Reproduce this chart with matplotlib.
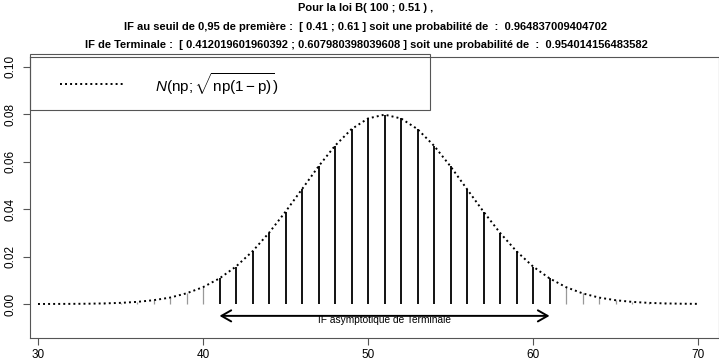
import numpy as np
import matplotlib.pyplot as plt
from matplotlib.patches import Rectangle
from matplotlib.lines import Line2D

plt.rcParams['font.family'] = ['Liberation Sans', 'DejaVu Sans']
plt.rcParams['mathtext.fontset'] = 'custom'
plt.rcParams['mathtext.rm'] = 'Liberation Sans'
plt.rcParams['mathtext.it'] = 'Liberation Sans:italic'

# valeurs k et probabilites
k = list(range(30, 71))
proba = [0.00001, 0.00003, 0.00006, 0.00012, 0.00025, 0.00048, 0.0009, 0.0016,
         0.0027, 0.0045, 0.0071, 0.0108, 0.0158, 0.0222, 0.0300, 0.0389, 0.0484,
         0.0580, 0.0667, 0.0737, 0.0782, 0.0798, 0.0782, 0.0737, 0.0667, 0.0580,
         0.0484, 0.0389, 0.0300, 0.0222, 0.0158, 0.0108, 0.0071, 0.0045, 0.0027,
         0.0016, 0.0009, 0.00048, 0.00025, 0.00012, 0.00006]
# densite normale N(51 ; 5) lue aux memes abscisses
densite = list(proba)
if_bas, if_haut = 41, 61

titre = ["Pour la loi B( 100 ; 0.51 ) ,",
         "IF au seuil de 0,95 de première :  [ 0.41 ; 0.61 ] soit une probabilité de  :  0.964837009404702",
         "IF de Terminale :  [ 0.412019601960392 ; 0.607980398039608 ] soit une probabilité de  :  0.954014156483582"]

pointille = (0, (1.0, 1.6))

fig = plt.figure(figsize=(7.19, 3.61), dpi=100)
ax = fig.add_axes([30/719, 1-337.7/361, 1-30/719, (337.7-57)/361])

k = np.array(k)
proba = np.array(proba)
dedans = (k >= if_bas) & (k <= if_haut)
ax.vlines(k[~dedans], 0, proba[~dedans], color='#999999', lw=0.9)
ax.vlines(k[dedans], 0, proba[dedans], color='black', lw=1.3)
ax.plot(k, densite, color='black', lw=1.4, linestyle=pointille)

ax.annotate('', xy=(if_bas, -0.0050), xytext=(if_haut, -0.0050),
            arrowprops=dict(arrowstyle='<->,head_length=0.7,head_width=0.4',
                            lw=1.4, color='black', shrinkA=0, shrinkB=0, mutation_scale=10))
ax.text(51, -0.0068, "IF asymptotique de Terminale", ha='center', va='center', fontsize=7.3)

ax.set_xlim(29.515, 71.27)
ax.set_ylim(-0.0142, 0.1041)
ax.set_xticks([30, 40, 50, 60, 70])
ax.set_yticks([0, 0.02, 0.04, 0.06, 0.08, 0.10])
ax.set_yticklabels(["0.00", "0.02", "0.04", "0.06", "0.08", "0.10"], rotation=90, va='center')
ax.tick_params(length=5, width=0.8, color='#555555', labelsize=8.5)
ax.tick_params(axis='x', pad=3)
ax.tick_params(axis='y', pad=5)
for s in ax.spines.values():
    s.set_color('#555555')
    s.set_linewidth(0.8)

# legende
ax.add_patch(Rectangle((0, 0.811), 0.5806, 0.2, transform=ax.transAxes,
                       fill=False, edgecolor='#555555', lw=0.8, clip_on=False))
ax.add_line(Line2D([(60-30)/689, (125-30)/689], [0.905, 0.905], transform=ax.transAxes,
                   color='black', lw=1.4, linestyle=pointille))
ax.text((155-30)/689, 0.905, r'$N(\mathrm{np};\sqrt{\mathrm{np}(1-\mathrm{p})})$',
        transform=ax.transAxes, va='center', ha='left', fontsize=11)

for i, ligne in enumerate(titre):
    fig.text(366/719, 1-(8+18.5*i)/361, ligne, ha='center', va='center',
             fontsize=8, fontweight='bold')

fig.savefig('out.png', dpi=100)
